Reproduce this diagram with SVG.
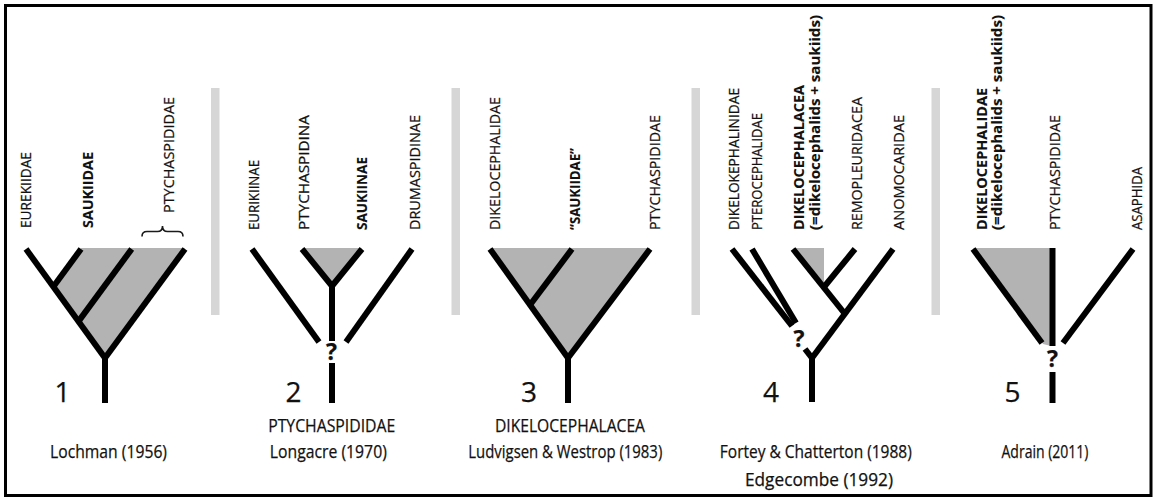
<svg xmlns="http://www.w3.org/2000/svg" width="1153" height="498" viewBox="0 0 1153 498">
  <style>
    .br { stroke: #000; stroke-width: 6; fill: none; stroke-linecap: butt; stroke-linejoin: miter; }
    .shade { fill: #b3b3b3; }
    .bar { fill: #d6d6d6; }
    .brace { stroke: #1a1a1a; stroke-width: 1.6; fill: none; }
    .lbl { font-family: "Open Sans", "Liberation Sans", sans-serif; font-size: 15px; fill: #111; stroke: #111; stroke-width: 0.25; }
    .b { font-weight: 700; stroke-width: 0.1; }
    .ref { font-size: 17.5px; text-anchor: middle; }
    .num { font-size: 28px; text-anchor: middle; }
    .q { font-size: 23px; font-weight: 700; text-anchor: middle; }
  </style>

  <rect x="0" y="0" width="1153" height="498" fill="#fff"/>
  <rect x="5.5" y="5.5" width="1145.5" height="490" fill="none" stroke="#000" stroke-width="3"/>

  <!-- panel separators -->
  <g id="separators">
    <rect class="bar" x="211" y="88" width="8.5" height="227"/>
    <rect class="bar" x="451.5" y="88" width="8.5" height="227"/>
    <rect class="bar" x="691.5" y="88" width="8.5" height="227"/>
    <rect class="bar" x="931.5" y="88" width="8.5" height="227"/>
  </g>

  <!-- shaded clades -->
  <g id="shading">
    <polygon class="shade" points="81,248 185,248 105,358 53,287"/>
    <polygon class="shade" points="302,248 362,248 332,285"/>
    <polygon class="shade" points="490,248 650,248 568,358"/>
    <polygon class="shade" points="793,248 824,248 824,287"/>
    <polygon class="shade" points="973,248 1052,248 1051,346 1043,344"/>
  </g>

  <!-- tree branches -->
  <g id="connectors">
    <!-- 1 -->
    <line class="br" x1="26" y1="249" x2="105" y2="358"/>
    <line class="br" x1="185" y1="249" x2="105" y2="358"/>
    <line class="br" x1="81" y1="249" x2="53.3" y2="286.7"/>
    <line class="br" x1="131.7" y1="249" x2="78.5" y2="321.4"/>
    <line class="br" x1="105" y1="356" x2="105" y2="403"/>
    <!-- 2 -->
    <line class="br" x1="252" y1="249" x2="319" y2="342"/>
    <line class="br" x1="412" y1="249" x2="346" y2="342"/>
    <line class="br" x1="302" y1="249" x2="332" y2="286"/>
    <line class="br" x1="362" y1="249" x2="332" y2="286"/>
    <line class="br" x1="332" y1="284" x2="332" y2="341"/>
    <line class="br" x1="332" y1="363" x2="332" y2="403"/>
    <!-- 3 -->
    <line class="br" x1="490" y1="249" x2="568" y2="358"/>
    <line class="br" x1="650" y1="249" x2="568" y2="358"/>
    <line class="br" x1="572" y1="249" x2="530" y2="305"/>
    <line class="br" x1="568" y1="356" x2="568" y2="403"/>
    <!-- 4 -->
    <line class="br" x1="732" y1="249" x2="792" y2="326"/>
    <line class="br" x1="752" y1="249" x2="796" y2="323"/>
    <line class="br" x1="805" y1="349" x2="812" y2="358"/>
    <line class="br" x1="893" y1="249" x2="812" y2="358"/>
    <line class="br" x1="793" y1="249" x2="845" y2="314"/>
    <line class="br" x1="855" y1="249" x2="823.6" y2="287.5"/>
    <line class="br" x1="812" y1="356" x2="812" y2="402"/>
    <!-- 5 -->
    <line class="br" x1="973" y1="249" x2="1042" y2="343"/>
    <line class="br" x1="1133" y1="249" x2="1063" y2="343"/>
    <line class="br" x1="1052.5" y1="248" x2="1052.5" y2="346"/>
    <line class="br" x1="1052.5" y1="372" x2="1052.5" y2="403"/>
  </g>

  <!-- panel 1: Lochman (1956) -->
  <g id="panel1">
    <text id="eurekiidae" class="lbl" transform="translate(30.5,228) rotate(-90)" textLength="76" lengthAdjust="spacingAndGlyphs">EUREKIIDAE</text>
    <text id="saukiidae-1" class="lbl b" transform="translate(93,228) rotate(-90)" textLength="76" lengthAdjust="spacingAndGlyphs">SAUKIIDAE</text>
    <text id="ptychaspididae-1" class="lbl" transform="translate(173.5,213) rotate(-90)" textLength="116" lengthAdjust="spacingAndGlyphs">PTYCHASPIDIDAE</text>
    <path class="brace" d="M142,236.5 Q142,231.5 147,231.5 L157.5,231.5 Q162.5,231.5 162.5,226 Q162.5,231.5 167.5,231.5 L178,231.5 Q183,231.5 183,236.5"/>
    <text class="lbl num" x="62.5" y="402">1</text>
    <text class="lbl ref" x="108.5" y="457.5" textLength="117" lengthAdjust="spacingAndGlyphs">Lochman (1956)</text>
  </g>

  <!-- panel 2: Longacre (1970) -->
  <g id="panel2">
    <text id="eurikiinae" class="lbl" transform="translate(258.5,230) rotate(-90)" textLength="70" lengthAdjust="spacingAndGlyphs">EURIKIINAE</text>
    <text id="ptychaspidina" class="lbl" transform="translate(308.5,230) rotate(-90)" textLength="115" lengthAdjust="spacingAndGlyphs">PTYCHASPIDINA</text>
    <text id="saukiinae" class="lbl b" transform="translate(367,230) rotate(-90)" textLength="73" lengthAdjust="spacingAndGlyphs">SAUKIINAE</text>
    <text id="drumaspidinae" class="lbl" transform="translate(420,230) rotate(-90)" textLength="115" lengthAdjust="spacingAndGlyphs">DRUMASPIDINAE</text>
    <text class="lbl q" x="331.5" y="360">?</text>
    <text class="lbl num" x="293.5" y="402">2</text>
    <text class="lbl ref" x="331.7" y="432" textLength="127" lengthAdjust="spacingAndGlyphs">PTYCHASPIDIDAE</text>
    <text class="lbl ref" x="328.3" y="457.5" textLength="117" lengthAdjust="spacingAndGlyphs">Longacre (1970)</text>
  </g>

  <!-- panel 3: Ludvigsen & Westrop (1983) -->
  <g id="panel3">
    <text id="dikelocephalidae-3" class="lbl" transform="translate(500,230) rotate(-90)" textLength="133" lengthAdjust="spacingAndGlyphs">DIKELOCEPHALIDAE</text>
    <text id="saukiidae-3" class="lbl b" transform="translate(580,230) rotate(-90)" textLength="82" lengthAdjust="spacingAndGlyphs">“SAUKIIDAE”</text>
    <text id="ptychaspididae-3" class="lbl" transform="translate(660,230) rotate(-90)" textLength="115" lengthAdjust="spacingAndGlyphs">PTYCHASPIDIDAE</text>
    <text class="lbl num" x="529" y="402">3</text>
    <text class="lbl ref" x="570" y="432" textLength="150" lengthAdjust="spacingAndGlyphs">DIKELOCEPHALACEA</text>
    <text class="lbl ref" x="565.3" y="457.5" textLength="194" lengthAdjust="spacingAndGlyphs">Ludvigsen &amp; Westrop (1983)</text>
  </g>

  <!-- panel 4: Fortey & Chatterton (1988), Edgecombe (1992) -->
  <g id="panel4">
    <text id="dikelokephalinidae" class="lbl" transform="translate(738.5,230) rotate(-90)" textLength="142" lengthAdjust="spacingAndGlyphs">DIKELOKEPHALINIDAE</text>
    <text id="pterocephalidae" class="lbl" transform="translate(762,230) rotate(-90)" textLength="117" lengthAdjust="spacingAndGlyphs">PTEROCEPHALIDAE</text>
    <g id="dikelocephalacea-4">
      <text class="lbl b" transform="translate(804,230) rotate(-90)" textLength="145" lengthAdjust="spacingAndGlyphs">DIKELOCEPHALACEA</text>
      <text class="lbl b" transform="translate(820,230) rotate(-90)" textLength="215" lengthAdjust="spacingAndGlyphs">(=dikelocephalids + saukiids)</text>
    </g>
    <text id="remopleuridacea" class="lbl" transform="translate(862,230) rotate(-90)" textLength="133" lengthAdjust="spacingAndGlyphs">REMOPLEURIDACEA</text>
    <text id="anomocaridae" class="lbl" transform="translate(903.5,230) rotate(-90)" textLength="115" lengthAdjust="spacingAndGlyphs">ANOMOCARIDAE</text>
    <text class="lbl q" x="799" y="347">?</text>
    <text class="lbl num" x="771" y="402">4</text>
    <text class="lbl ref" x="815.8" y="457.5" textLength="192" lengthAdjust="spacingAndGlyphs">Fortey &amp; Chatterton (1988)</text>
    <text class="lbl ref" x="819" y="486" textLength="148" lengthAdjust="spacingAndGlyphs">Edgecombe (1992)</text>
  </g>

  <!-- panel 5: Adrain (2011) -->
  <g id="panel5">
    <g id="dikelocephalidae-5">
      <text class="lbl b" transform="translate(986.5,230) rotate(-90)" textLength="142" lengthAdjust="spacingAndGlyphs">DIKELOCEPHALIDAE</text>
      <text class="lbl b" transform="translate(1002,230) rotate(-90)" textLength="215" lengthAdjust="spacingAndGlyphs">(=dikelocephalids + saukiids)</text>
    </g>
    <text id="ptychaspididae-5" class="lbl" transform="translate(1060,230) rotate(-90)" textLength="115" lengthAdjust="spacingAndGlyphs">PTYCHASPIDIDAE</text>
    <text id="asaphida" class="lbl" transform="translate(1141.5,230) rotate(-90)" textLength="63" lengthAdjust="spacingAndGlyphs">ASAPHIDA</text>
    <text class="lbl q" x="1052.5" y="367">?</text>
    <text class="lbl num" x="1012.5" y="402">5</text>
    <text class="lbl ref" x="1045" y="457.5" textLength="87" lengthAdjust="spacingAndGlyphs">Adrain (2011)</text>
  </g>
</svg>
